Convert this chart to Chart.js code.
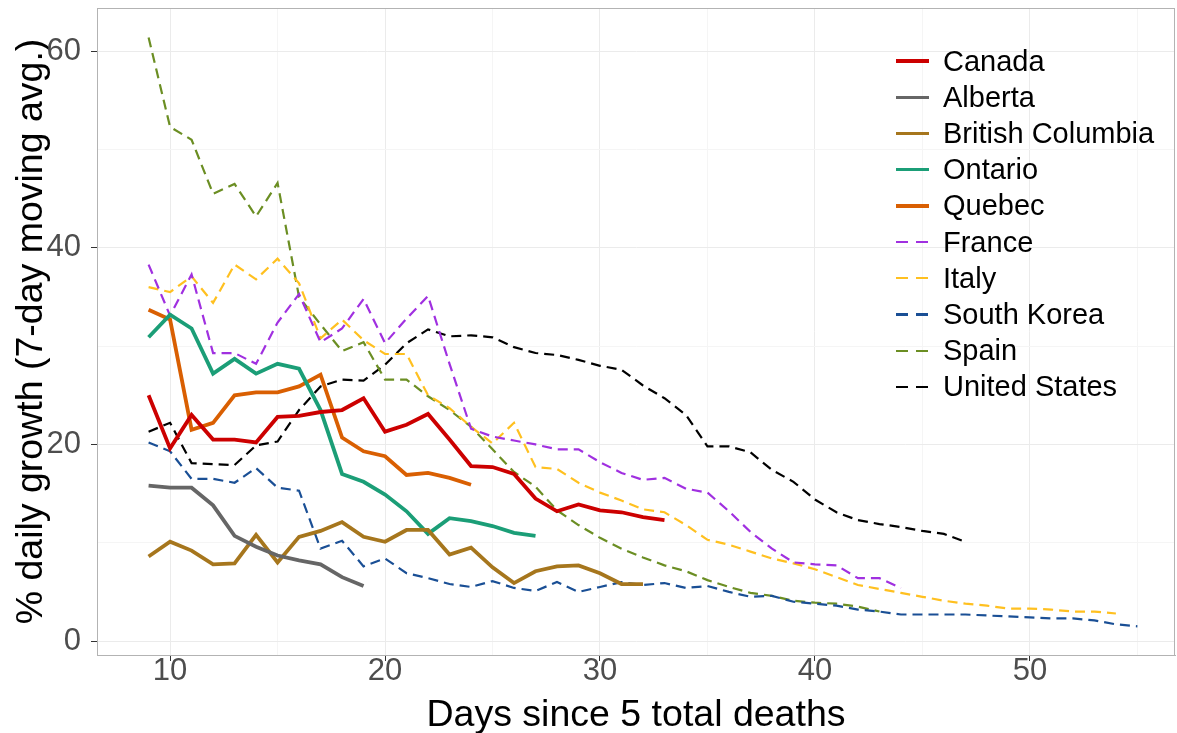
<!DOCTYPE html>
<html>
<head>
<meta charset="utf-8">
<script src="https://cdn.jsdelivr.net/npm/chart.js@4.4.0/dist/chart.umd.min.js"></script>
<style>
  body { margin: 0; background: #fff; }
  #wrap { position: relative; width: 1177px; height: 733px; }
  #legend { position: absolute; left: 896px; top: 43px; font-family: "Liberation Sans", Arial, sans-serif; font-size: 29px; color: #000; }
  #legend .row { height: 36.2px; display: flex; align-items: center; }
  #legend .key { width: 33px; height: 3.5px; margin-right: 14px; }
</style>
</head>
<body>
<div id="wrap">
  <canvas id="chart" width="1177" height="733"></canvas>
  <div id="legend"></div>
</div>
<script>
// series names, colours, first day of each series
const names = ['Canada', 'Alberta', 'British Columbia', 'Ontario', 'Quebec',
               'France', 'Italy', 'South Korea', 'Spain', 'United States']
const colors = ['#CC0000', '#666666', '#A6761D', '#1B9E77', '#D95F02',
                '#A030E0', '#FFC020', '#1A4F95', '#6B8E23', '#000000']
const dashed = [false, false, false, false, false, true, true, true, true, true]
const startDay = [9, 9, 9, 9, 9, 9, 9, 9, 9, 9]

// % daily growth, one value per day from startDay
const canada = [25.0, 19.6, 23.0, 20.5, 20.5, 20.2, 22.8, 22.9, 23.3, 23.5, 24.7, 21.3, 22.0, 23.1, 20.5,
                17.8, 17.7, 17.0, 14.5, 13.2, 13.9, 13.3, 13.1, 12.6, 12.3]
const alberta = [15.8, 15.6, 15.6, 13.8, 10.7, 9.6, 8.7, 8.2, 7.8, 6.5, 5.6]
const britishColumbia = [8.6, 10.1, 9.2, 7.8, 7.9, 10.8, 8.0, 10.6, 11.2, 12.1, 10.6, 10.1, 11.3, 11.3,
                         8.8, 9.5, 7.5, 5.9, 7.1, 7.6, 7.7, 6.9, 5.8, 5.8]
const ontario = [30.9, 33.2, 31.8, 27.2, 28.7, 27.2, 28.2, 27.7, 23.5, 17.0, 16.2, 14.9, 13.2, 10.9,
                 12.5, 12.2, 11.7, 11.0, 10.7]
const quebec = [33.7, 32.7, 21.5, 22.2, 25.0, 25.3, 25.3, 25.9, 27.1, 20.7, 19.3, 18.8, 16.9, 17.1, 16.6, 15.9]
const france = [38.3, 33.1, 37.3, 29.3, 29.3, 28.2, 32.4, 35.3, 30.4, 31.8, 34.8, 30.3, 32.8, 35.1, 28.2,
                21.6, 20.8, 20.4, 20.0, 19.5, 19.5, 18.2, 17.1, 16.4, 16.6, 15.5, 15.1, 13.2, 11.1, 9.4,
                8.0, 7.8, 7.7, 6.4, 6.4, 5.4]
const italy = [36.0, 35.5, 37.1, 34.4, 38.3, 36.8, 38.9, 36.4, 30.8, 32.7, 30.6, 29.2, 29.2, 25.0, 23.7,
               21.8, 20.1, 22.2, 17.7, 17.5, 16.1, 15.1, 14.3, 13.4, 13.1, 11.8, 10.3, 9.8, 9.1, 8.4,
               7.9, 7.3, 6.5, 5.7, 5.3, 4.9, 4.5, 4.1, 3.8, 3.6, 3.3, 3.3, 3.2, 3.0, 3.0, 2.8]
const southKorea = [20.2, 19.3, 16.5, 16.5, 16.1, 17.6, 15.6, 15.3, 9.4, 10.2, 7.6, 8.4, 6.9, 6.4, 5.8,
                    5.5, 6.1, 5.4, 5.1, 6.0, 5.0, 5.5, 6.0, 5.7, 5.9, 5.4, 5.6, 5.0, 4.5, 4.6,
                    4.0, 3.8, 3.6, 3.2, 3.0, 2.7, 2.7, 2.7, 2.7, 2.6, 2.5, 2.4, 2.3, 2.3, 2.1, 1.7, 1.5]
const spain = [61.4, 52.3, 51.0, 45.5, 46.5, 43.2, 46.6, 35.0, 32.2, 29.5, 30.4, 26.6, 26.6, 24.9, 23.5,
               21.8, 19.5, 17.2, 15.7, 13.3, 11.8, 10.5, 9.4, 8.5, 7.7, 7.1, 6.2, 5.5, 4.9, 4.6,
               4.1, 3.9, 3.8, 3.5, 3.0]
const unitedStates = [21.3, 22.2, 18.1, 18.0, 17.9, 19.9, 20.3, 23.5, 25.9, 26.6, 26.5, 28.1, 30.3, 31.7,
                      31.0, 31.1, 30.9, 29.9, 29.3, 29.1, 28.6, 28.0, 27.6, 26.0, 24.7, 23.0, 19.8, 19.8,
                      19.2, 17.4, 16.2, 14.4, 13.1, 12.3, 11.9, 11.6, 11.2, 10.9, 10.1]
const series = [canada, alberta, britishColumbia, ontario, quebec, france, italy, southKorea, spain, unitedStates]

// axis ticks (major labelled, minor = grid only)
const xMajor = [10, 20, 30, 40, 50]
const xMinor = [15, 25, 35, 45, 55]
const yMajor = [0, 20, 40, 60]
const yMinor = [10, 30, 50]

const fontFam = '"Liberation Sans", Arial, sans-serif'

const datasets = series.map((vals, i) => ({
    label: names[i],
    data: vals.map((v, k) => ({ x: startDay[i] + k, y: v })),
    borderColor: colors[i],
    backgroundColor: colors[i],
    borderWidth: dashed[i] ? 2.2 : 3.8,
    borderDash: dashed[i] ? [10, 6] : [],
    pointRadius: 0,
    tension: 0,
    fill: false
}))

const isMajor = (list) => (ctx) => ctx.tick && list.includes(ctx.tick.value)

function axisOpts(major, minor, min, max, title, isX) {
    const all = major.concat(minor).sort((a, b) => a - b)
    return {
        type: 'linear',
        min: min,
        max: max,
        afterBuildTicks: (scale) => { scale.ticks = all.map(v => ({ value: v })) },
        afterFit: (scale) => {
            // no extra room for edge labels, the panel fills the page
            scale.paddingTop = 0; scale.paddingBottom = 0
            scale.paddingLeft = 0; scale.paddingRight = 0
            if (isX) scale.height = 78; else scale.width = 97
        },
        grid: {
            color: (ctx) => isMajor(major)(ctx) ? '#EBEBEB' : '#F5F5F5',
            tickColor: (ctx) => isMajor(major)(ctx) ? '#333333' : 'rgba(0,0,0,0)',
            tickLength: 6,
            lineWidth: 1
        },
        border: { color: '#B3B3B3', width: 1 },
        ticks: {
            autoSkip: false,
            maxRotation: 0,
            padding: isX ? -5 : 10,
            color: '#4D4D4D',
            font: { family: fontFam, size: 31, lineHeight: 1 },
            callback: (v) => major.includes(v) ? String(v) : ''
        },
        title: {
            display: true,
            text: title,
            color: '#000',
            font: { family: fontFam, size: 37.5, lineHeight: 1.2 },
            padding: isX ? { top: 0, bottom: -5 } : { top: 9, bottom: 0 }
        }
    }
}

// panel border on all four sides
const panelBorder = {
    id: 'panelBorder',
    afterDraw(chart) {
        const a = chart.chartArea, c = chart.ctx
        c.save()
        c.strokeStyle = '#B3B3B3'
        c.lineWidth = 1
        c.strokeRect(a.left + 0.5, a.top + 0.5, a.right - a.left - 1, a.bottom - a.top)
        c.restore()
    }
}

const chart = new Chart(document.getElementById('chart'), {
    type: 'line',
    data: { datasets: datasets },
    options: {
        responsive: false,
        animation: false,
        layout: { padding: { top: 8, right: 2, left: 0, bottom: 0 } },
        plugins: { legend: { display: false }, tooltip: { enabled: false } },
        scales: {
            x: axisOpts(xMajor, xMinor, 6.6, 56.75, 'Days since 5 total deaths', true),
            y: axisOpts(yMajor, yMinor, -1.42, 64.4, '% daily growth (7-day moving avg.)', false)
        }
    },
    plugins: [panelBorder]
})

// legend in the top right of the panel
const legendBox = document.getElementById('legend')
names.forEach((n, i) => {
    const row = document.createElement('div')
    row.className = 'row'
    const key = document.createElement('div')
    key.className = 'key'
    if (dashed[i]) {
        key.style.background = 'repeating-linear-gradient(90deg,' + colors[i] + ' 0 12px, transparent 12px 20px)'
        key.style.height = '2.2px'
    } else {
        key.style.background = colors[i]
    }
    const txt = document.createElement('span')
    txt.textContent = n
    row.appendChild(key)
    row.appendChild(txt)
    legendBox.appendChild(row)
})
</script>
</body>
</html>
